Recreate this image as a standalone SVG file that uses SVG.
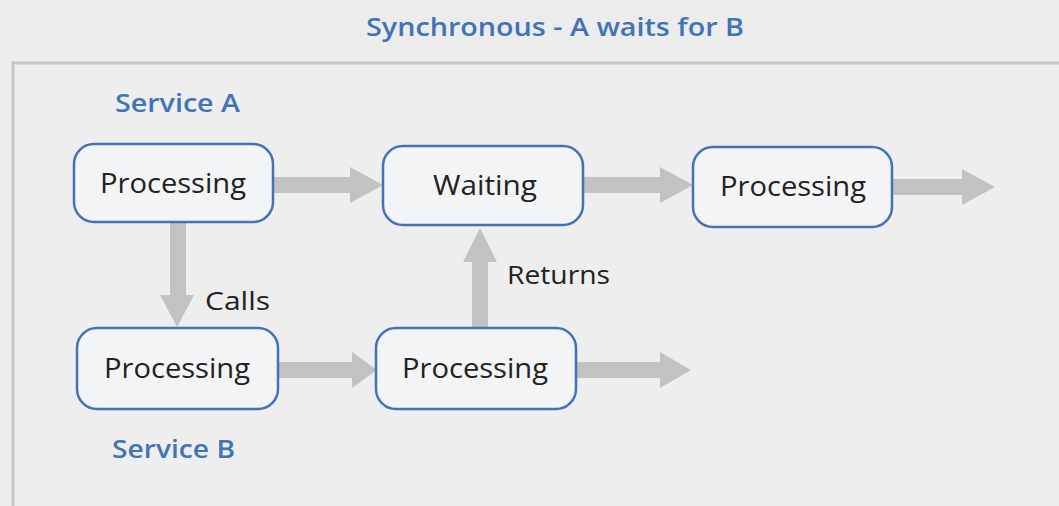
<svg xmlns="http://www.w3.org/2000/svg" width="1059" height="506" viewBox="0 0 1059 506">
<style>
.node rect{fill:#f3f4f6;stroke:#4272b8;stroke-width:2.5}
.node text{font-family:"Open Sans","Liberation Sans",sans-serif;font-size:28px;fill:#222;text-anchor:middle;font-weight:500}
.lbl{font-family:"Open Sans","Liberation Sans",sans-serif;font-size:26px;fill:#4272b8;font-weight:600}
.elbl{font-family:"Open Sans","Liberation Sans",sans-serif;font-size:26px;fill:#222;font-weight:500}
.arr{fill:#c2c2c2}
</style>
<rect x="0" y="0" width="1059" height="506" fill="#ececec"/>
<rect x="13" y="63" width="1060" height="460" fill="#eeeeee" stroke="#c6c6c6" stroke-width="3"/>
<text class="lbl" x="555" y="36" text-anchor="middle" textLength="378" lengthAdjust="spacingAndGlyphs">Synchronous - A waits for B</text>
<text class="lbl" x="115" y="112" textLength="125" lengthAdjust="spacingAndGlyphs">Service A</text>
<text class="lbl" x="112" y="458" textLength="123" lengthAdjust="spacingAndGlyphs">Service B</text>
<g id="connectors">
<polygon class="arr" points="273,177 350,177 350,167 383,185 350,203 350,193 273,193"/>
<polygon class="arr" points="583,177 660,177 660,167 693,185 660,203 660,193 583,193"/>
<polygon class="arr" points="893,179 962,179 962,169 995,187 962,205 962,195 893,195"/>
<polygon class="arr" points="170,223 186,223 186,295 194,295 177,327 160,295 170,295"/>
<polygon class="arr" points="278,362 352,362 352,352 377,370 352,388 352,378 278,378"/>
<polygon class="arr" points="577,362 660,362 660,352 691,370 660,388 660,378 577,378"/>
<polygon class="arr" points="472,328 488,328 488,262 497,262 480,228 463,262 472,262"/>
<text class="elbl" x="205" y="310" textLength="65" lengthAdjust="spacingAndGlyphs">Calls</text>
<text class="elbl" x="507" y="284" textLength="103" lengthAdjust="spacingAndGlyphs">Returns</text>
</g>
<g id="a1" class="node"><rect x="74" y="144" width="199" height="78" rx="20"/><text x="173" y="193" textLength="146" lengthAdjust="spacingAndGlyphs">Processing</text></g>
<g id="waiting" class="node"><rect x="383" y="146" width="200" height="79" rx="20"/><text x="485" y="195" textLength="104" lengthAdjust="spacingAndGlyphs">Waiting</text></g>
<g id="a3" class="node"><rect x="693" y="147" width="199" height="80" rx="20"/><text x="793" y="196" textLength="146" lengthAdjust="spacingAndGlyphs">Processing</text></g>
<g id="b1" class="node"><rect x="77" y="328" width="201" height="81" rx="20"/><text x="177" y="378" textLength="146" lengthAdjust="spacingAndGlyphs">Processing</text></g>
<g id="b2" class="node"><rect x="376" y="328" width="200" height="81" rx="20"/><text x="475" y="378" textLength="146" lengthAdjust="spacingAndGlyphs">Processing</text></g>
</svg>
